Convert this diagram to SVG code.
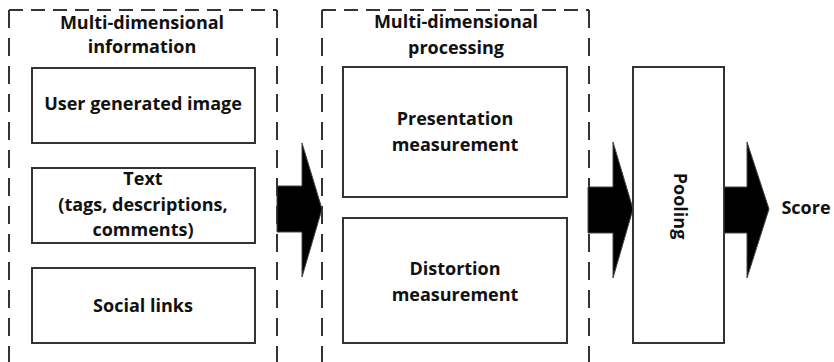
<svg xmlns="http://www.w3.org/2000/svg" width="834" height="362" viewBox="0 0 834 362">
  <style>
    .dash-h { fill: none; stroke: #333; stroke-width: 2; stroke-dasharray: 14 8; }
    .dash-v { fill: none; stroke: #333; stroke-width: 2; stroke-dasharray: 18 10; }
    .box { fill: #fff; stroke: #333; stroke-width: 2; }
    .arrow { fill: #000; stroke: #444; stroke-width: 1; stroke-linejoin: miter; }
    text { font-family: "Open Sans", "DejaVu Sans", sans-serif; font-weight: bold; font-size: 18px; fill: #111; text-anchor: middle; }
  </style>
  <rect width="834" height="362" fill="#fff"/>

  <!-- Group: multi-dimensional information -->
  <g id="group-information">
    <path class="dash-h" d="M9 10 H277"/>
    <path class="dash-v" d="M9 10 V362"/>
    <path class="dash-v" d="M277 10 V362"/>
    <text x="142" y="29">Multi-dimensional</text>
    <text x="142" y="53">information</text>
  </g>
  <g id="node-image">
    <rect class="box" x="32" y="68" width="223" height="75"/>
    <text x="143" y="110">User generated image</text>
  </g>
  <g id="node-text">
    <rect class="box" x="32" y="168" width="223" height="75"/>
    <text x="143" y="185">Text</text>
    <text x="143" y="211">(tags, descriptions,</text>
    <text x="143" y="236">comments)</text>
  </g>
  <g id="node-social">
    <rect class="box" x="32" y="268" width="223" height="75"/>
    <text x="143" y="312">Social links</text>
  </g>

  <!-- Group: multi-dimensional processing -->
  <g id="group-processing">
    <path class="dash-h" d="M322 10 H589"/>
    <path class="dash-v" d="M322 10 V362"/>
    <path class="dash-v" d="M589 10 V362"/>
    <text x="456" y="28">Multi-dimensional</text>
    <text x="456" y="54">processing</text>
  </g>
  <g id="node-presentation">
    <rect class="box" x="343" y="67" width="224" height="130"/>
    <text x="455" y="125">Presentation</text>
    <text x="455" y="151">measurement</text>
  </g>
  <g id="node-distortion">
    <rect class="box" x="343" y="218" width="224" height="125"/>
    <text x="455" y="275">Distortion</text>
    <text x="455" y="301">measurement</text>
  </g>

  <!-- Pooling -->
  <g id="node-pooling">
    <rect class="box" x="633" y="67" width="91" height="276"/>
    <text transform="translate(674 206) rotate(90)">Pooling</text>
  </g>

  <!-- Output label -->
  <g id="node-score">
    <text x="806" y="214">Score</text>
  </g>

  <!-- Block arrows between stages -->
  <g id="connectors">
    <polygon class="arrow" points="277,186 302,186 302,143 322,209 302,277 302,232 277,232"/>
    <polygon class="arrow" points="588,187 613,187 613,142 633,209 613,278 613,233 588,233"/>
    <polygon class="arrow" points="724,187 747,187 747,142 769,209 747,278 747,233 724,233"/>
  </g>
</svg>
